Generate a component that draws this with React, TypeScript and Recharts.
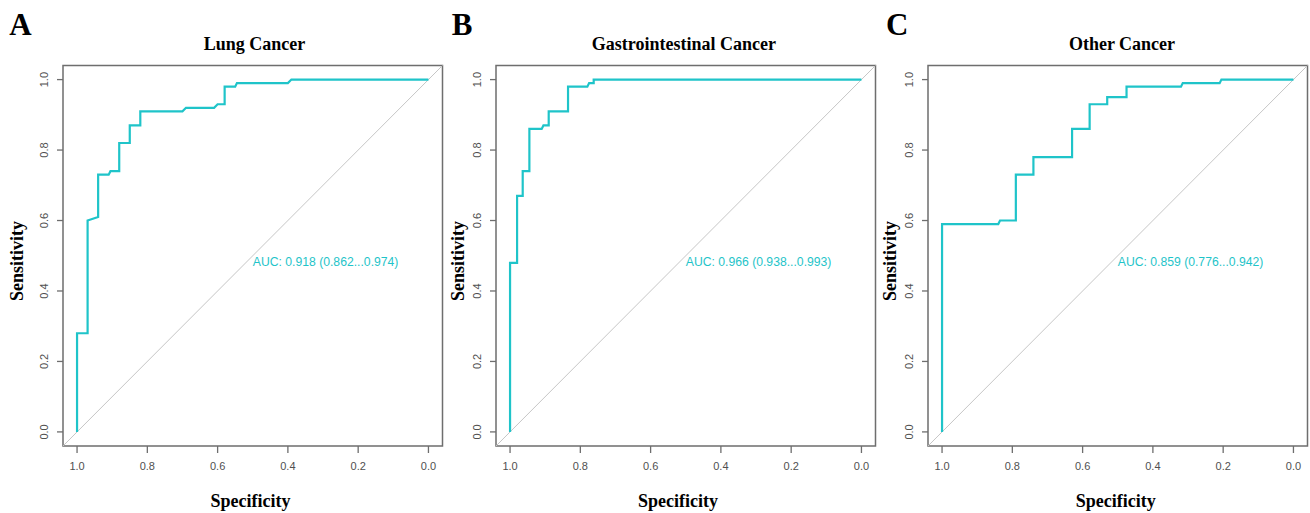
import React from "react";
import {
  LineChart,
  Line,
  XAxis,
  YAxis,
  ReferenceLine,
  ReferenceArea,
  ReferenceDot,
} from "recharts";

// axis ticks (specificity axis runs 1 -> 0)
const specTicks = [1, 0.8, 0.6, 0.4, 0.2, 0];
const sensTicks = [0, 0.2, 0.4, 0.6, 0.8, 1];

// A: lung cancer ROC points
const lungSpec = [1.0, 1.0, 0.97, 0.97, 0.94, 0.94, 0.91, 0.905, 0.88, 0.88, 0.85, 0.85, 0.82, 0.82, 0.70, 0.69, 0.61, 0.60, 0.58, 0.58, 0.55, 0.545, 0.40, 0.39, 0.0];
const lungSens = [0.0, 0.28, 0.28, 0.60, 0.61, 0.73, 0.73, 0.74, 0.74, 0.82, 0.82, 0.87, 0.87, 0.91, 0.91, 0.92, 0.92, 0.93, 0.93, 0.98, 0.98, 0.99, 0.99, 1.0, 1.0];

// B: gastrointestinal cancer ROC points
const giSpec = [1.0, 1.0, 0.98, 0.98, 0.964, 0.964, 0.945, 0.945, 0.91, 0.905, 0.89, 0.89, 0.835, 0.835, 0.78, 0.775, 0.762, 0.762, 0.0];
const giSens = [0.0, 0.48, 0.48, 0.67, 0.67, 0.74, 0.74, 0.86, 0.86, 0.87, 0.87, 0.91, 0.91, 0.98, 0.98, 0.99, 0.99, 1.0, 1.0];

// C: other cancer ROC points
const otherSpec = [1.0, 1.0, 0.84, 0.835, 0.79, 0.79, 0.74, 0.74, 0.63, 0.63, 0.58, 0.58, 0.53, 0.53, 0.475, 0.475, 0.32, 0.315, 0.21, 0.205, 0.0];
const otherSens = [0.0, 0.59, 0.59, 0.60, 0.60, 0.73, 0.73, 0.78, 0.78, 0.86, 0.86, 0.93, 0.93, 0.95, 0.95, 0.98, 0.98, 0.99, 0.99, 1.0, 1.0];

const letters = ["A", "B", "C"];
const titles = ["Lung Cancer", "Gastrointestinal Cancer", "Other Cancer"];
const aucLabels = [
  "AUC: 0.918 (0.862...0.974)",
  "AUC: 0.966 (0.938...0.993)",
  "AUC: 0.859 (0.776...0.942)",
];

const CURVE = "#1fc4c9";
const FRAME = "#6e6e6e";
const DIAG = "#c6c6c6";
const TICK_TEXT = "#505050";
const SANS = "'Liberation Sans', Arial, sans-serif";
const SERIF = "'Liberation Serif', 'Times New Roman', serif";

const PLOT_TOP = 65.5;
const PLOT_BOTTOM = 446;
const PLOT_W = 379.5;

const XTick = ({ x, y, payload }: any) => (
  <text x={x} y={y} textAnchor="middle" fontSize={11} fill={TICK_TEXT} fontFamily={SANS}>
    {Number(payload.value).toFixed(1)}
  </text>
);

const YTick = ({ x, y, payload }: any) => (
  <text
    x={x}
    y={y}
    transform={`rotate(-90 ${x} ${y})`}
    textAnchor="middle"
    fontSize={11}
    fill={TICK_TEXT}
    fontFamily={SANS}
  >
    {Number(payload.value).toFixed(1)}
  </text>
);

const AucLabel = ({ viewBox, value }: any) => {
  const cx = viewBox.x + (viewBox.width || 0) / 2;
  const cy = viewBox.y + (viewBox.height || 0) / 2;
  return (
    <text x={cx} y={cy + 10} fontSize={12.2} fill={CURVE} fontFamily={SANS}>
      {value}
    </text>
  );
};

interface PanelProps {
  plotLeft: number;
  spec: number[];
  sens: number[];
  auc: string;
}

function RocPanel({ plotLeft, spec, sens, auc }: PanelProps) {
  const data = spec.map((s, i) => ({ spec: s, sens: sens[i] }));
  const padLeft = 60;
  const width = padLeft + PLOT_W + 12;
  return (
    <div style={{ position: "absolute", left: plotLeft - padLeft, top: 0 }}>
      <LineChart
        width={width}
        height={513}
        data={data}
        margin={{ top: PLOT_TOP, left: padLeft - 40, right: 12, bottom: 513 - PLOT_BOTTOM - 30 }}
      >
        <XAxis
          dataKey="spec"
          type="number"
          reversed
          domain={[-0.04, 1.04]}
          allowDataOverflow
          ticks={specTicks}
          height={30}
          axisLine={false}
          tickLine={{ stroke: FRAME, strokeWidth: 1.3 }}
          tickSize={7}
          tickMargin={17}
          tick={<XTick />}
          interval={0}
        />
        <YAxis
          type="number"
          domain={[-0.04, 1.04]}
          allowDataOverflow
          ticks={sensTicks}
          width={40}
          axisLine={false}
          tickLine={{ stroke: FRAME, strokeWidth: 1.3 }}
          tickSize={6}
          tickMargin={9}
          tick={<YTick />}
          interval={0}
        />
        <ReferenceArea
          x1={-0.04}
          x2={1.04}
          y1={-0.04}
          y2={1.04}
          fill="none"
          fillOpacity={0}
          stroke={FRAME}
          strokeWidth={1.5}
          ifOverflow="visible"
        />
        <ReferenceLine
          segment={[
            { x: 1.04, y: -0.04 },
            { x: -0.04, y: 1.04 },
          ]}
          stroke={DIAG}
          strokeWidth={1}
          ifOverflow="visible"
        />
        <Line
          type="linear"
          dataKey="sens"
          stroke={CURVE}
          strokeWidth={2.2}
          dot={false}
          isAnimationActive={false}
        />
        <ReferenceDot x={0.5} y={0.5} r={0} fill="none" stroke="none" label={<AucLabel value={auc} />} />
      </LineChart>
    </div>
  );
}

export default function App() {
  const panels = [
    { plotLeft: 63, spec: lungSpec, sens: lungSens },
    { plotLeft: 495.7, spec: giSpec, sens: giSens },
    { plotLeft: 927.7, spec: otherSpec, sens: otherSens },
  ];
  const letterX = [9.3, 451.7, 886];
  const titleX = [254.5, 683.8, 1122];
  const xlabX = [250.5, 678, 1115.7];
  const ylabX = [22.7, 464, 895.7];

  return (
    <div
      style={{
        position: "absolute",
        left: 0,
        top: 0,
        width: 1310,
        height: 513,
        background: "#fff",
        overflow: "hidden",
      }}
    >
      {panels.map((p, i) => (
        <RocPanel key={i} plotLeft={p.plotLeft} spec={p.spec} sens={p.sens} auc={aucLabels[i]} />
      ))}
      <svg width={1310} height={513} style={{ position: "absolute", left: 0, top: 0, pointerEvents: "none" }}>
        {letters.map((l, i) => (
          <text key={"l" + i} x={letterX[i]} y={35} fontSize={31} fontWeight="bold" fontFamily={SERIF} fill="#000">
            {l}
          </text>
        ))}
        {titles.map((t, i) => (
          <text key={"t" + i} x={titleX[i]} y={50} textAnchor="middle" fontSize={18} fontWeight="bold" fontFamily={SERIF} fill="#000">
            {t}
          </text>
        ))}
        {titles.map((_, i) => (
          <text key={"x" + i} x={xlabX[i]} y={507} textAnchor="middle" fontSize={18} fontWeight="bold" fontFamily={SERIF} fill="#000">
            Specificity
          </text>
        ))}
        {titles.map((_, i) => (
          <text
            key={"y" + i}
            x={ylabX[i]}
            y={261}
            transform={`rotate(-90 ${ylabX[i]} 261)`}
            textAnchor="middle"
            fontSize={18}
            fontWeight="bold"
            fontFamily={SERIF}
            fill="#000"
          >
            Sensitivity
          </text>
        ))}
      </svg>
    </div>
  );
}
